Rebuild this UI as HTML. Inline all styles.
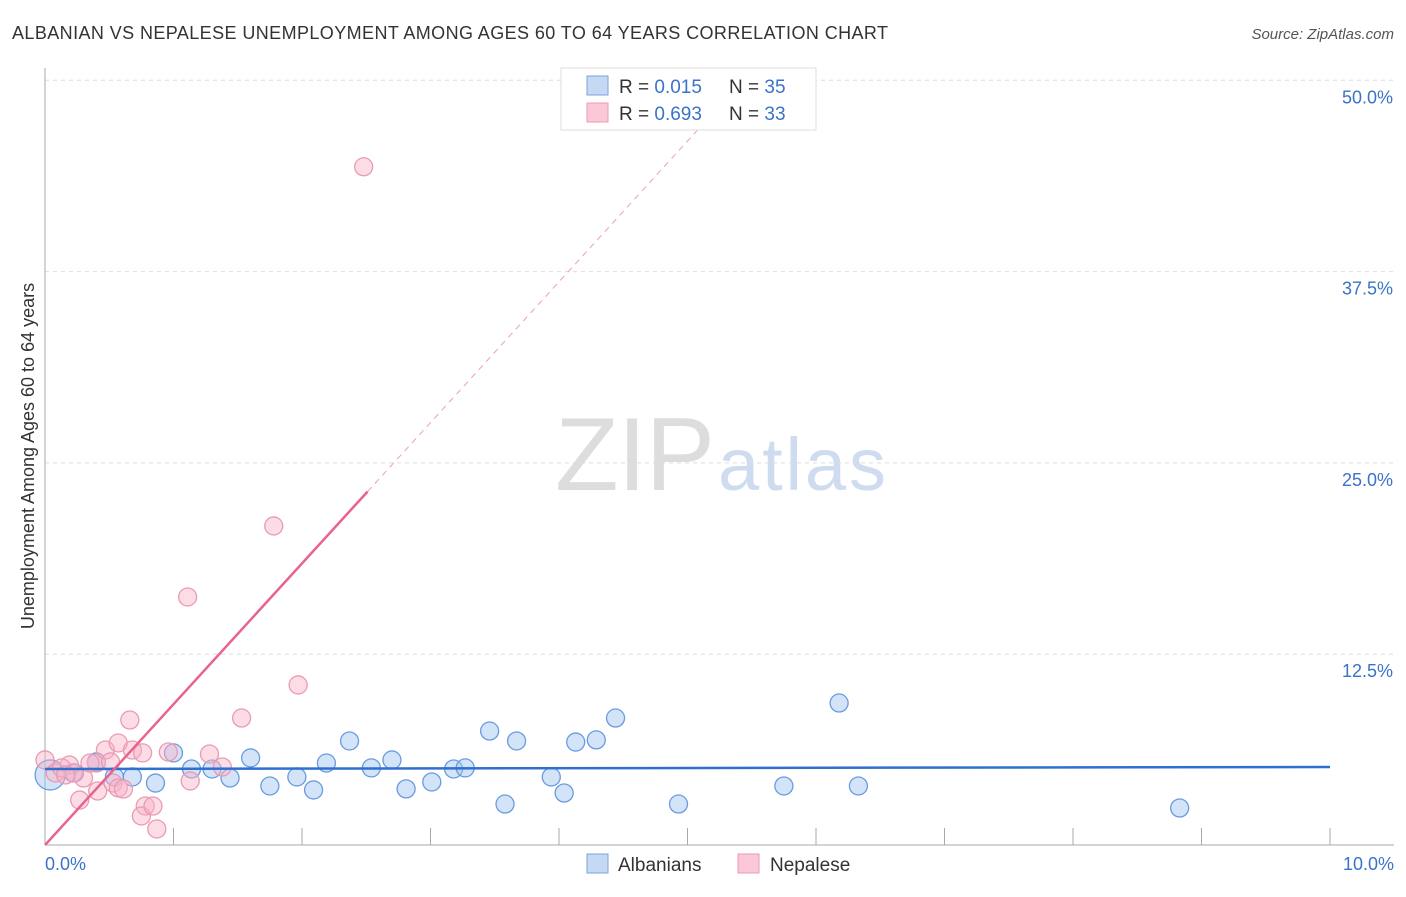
<!DOCTYPE html>
<html><head><meta charset="utf-8"><style>
body{margin:0;background:#fff;font-family:"Liberation Sans",sans-serif}
svg text{font-family:"Liberation Sans",sans-serif}
</style></head><body>
<svg id="chart" width="1406" height="892">
<text x="12" y="39" font-size="18" fill="#333" textLength="876">ALBANIAN VS NEPALESE UNEMPLOYMENT AMONG AGES 60 TO 64 YEARS CORRELATION CHART</text>
<text x="1394" y="39" font-size="15" fill="#555" font-style="italic" text-anchor="end">Source: ZipAtlas.com</text>
<g>
<text x="555" y="490" font-size="104" fill="#ddd" font-family="Liberation Serif" textLength="160">ZIP</text>
<text x="718" y="490" font-size="74" fill="#cfdcf0" textLength="168">atlas</text></g>
<g id="grid"></g><g id="axes"></g><g id="marks"></g>
<text transform="translate(34,456) rotate(-90)" font-size="18" fill="#333" text-anchor="middle">Unemployment Among Ages 60 to 64 years</text>
<text x="45" y="870" font-size="18" fill="#3b73c8">0.0%</text>
<text x="1394" y="870" font-size="18" fill="#3b73c8" text-anchor="end">10.0%</text>
<g>
<rect x="561" y="68" width="255" height="62" fill="#fff" stroke="#ddd"/>
<rect x="587" y="76" width="21" height="19" fill="#c5d9f5" stroke="#7aa3dd"/>
<rect x="587" y="103" width="21" height="19" fill="#fac8d7" stroke="#eb9ab3"/>
<text x="619" y="93" font-size="19" fill="#333">R = <tspan fill="#3b73c8">0.015</tspan><tspan x="729">N = </tspan><tspan fill="#3b73c8">35</tspan></text>
<text x="619" y="120" font-size="19" fill="#333">R = <tspan fill="#3b73c8">0.693</tspan><tspan x="729">N = </tspan><tspan fill="#3b73c8">33</tspan></text></g>
<g>
<rect x="587" y="854" width="21" height="19" fill="#c5d9f5" stroke="#7aa3dd"/>
<text x="618" y="871" font-size="19" fill="#333">Albanians</text>
<rect x="738" y="854" width="21" height="19" fill="#fac8d7" stroke="#eb9ab3"/>
<text x="770" y="871" font-size="19" fill="#333">Nepalese</text></g>
</svg>
<script>
const yTicks=[12.5,25,37.5,50];
const yTickLabels=["12.5%","25.0%","37.5%","50.0%"];
const albX=[0.04,0.22,0.40,0.54,0.68,0.86,1.00,1.14,1.30,1.44,1.60,1.75,1.96,2.09,2.19,2.37,2.54,2.70,2.81,3.01,3.18,3.27,3.46,3.58,3.67,3.94,4.04,4.13,4.29,4.44,4.93,5.75,6.18,6.33,8.83];
const albY=[4.61,4.74,5.46,4.48,4.48,4.08,6.05,5.00,5.00,4.41,5.72,3.89,4.48,3.63,5.39,6.83,5.07,5.59,3.70,4.15,5.00,5.07,7.48,2.71,6.83,4.48,3.43,6.76,6.90,8.33,2.71,3.89,9.31,3.89,2.45];
const nepX=[0.00,0.08,0.19,0.13,0.27,0.30,0.41,0.40,0.47,0.53,0.57,0.61,0.57,0.66,0.68,0.76,0.78,0.75,0.84,0.87,0.96,1.11,1.13,1.28,1.38,1.53,1.78,1.97,2.48,0.51,0.35,0.23,0.16];
const nepY=[5.59,4.74,5.26,5.07,2.97,4.41,3.56,5.39,6.24,4.08,3.76,3.69,6.70,8.20,6.24,6.05,2.58,1.93,2.58,1.08,6.11,16.24,4.22,5.98,5.13,8.33,20.88,10.49,44.35,5.46,5.39,4.74,4.61];
const albTrend=[5.0,5.13];
const nepTrend=[0.03,9.2];
const NS="http://www.w3.org/2000/svg";
const X=v=>45+v*128.5, Y=v=>845.5-v*15.304;
function mk(p,t,a){const e=document.createElementNS(NS,t);for(const k in a)e.setAttribute(k,a[k]);p.appendChild(e);return e;}
const grid=document.getElementById('grid'),axes=document.getElementById('axes'),marks=document.getElementById('marks');
yTicks.forEach((t,i)=>{
 const l=mk(grid,'line',{x1:45,x2:1394,y1:Y(t),y2:Y(t),stroke:'#ddd','stroke-dasharray':'4,4'});
 
 
 const tx=mk(grid,'text',{x:1393,y:Y(t)+23,'font-size':18,fill:'#3b73c8','text-anchor':'end'});
 tx.textContent=yTickLabels[i];
 
 
});
const ya=mk(axes,'line',{x1:45,x2:45,y1:68,y2:845,stroke:'#aaa'});


const xa=mk(axes,'line',{x1:45,x2:1394,y1:845,y2:845,stroke:'#aaa'});


for(let i=1;i<=10;i++){
 const t=mk(axes,'line',{x1:X(i),x2:X(i),y1:828,y2:845,stroke:'#aaa'});
 
 
}
albX.forEach((x,i)=>{
 const c=mk(marks,'circle',{cx:X(x),cy:Y(albY[i]),r:i==0?15:9,fill:'rgba(160,195,240,0.45)',stroke:'#6a9be0','stroke-width':1.3});
 
 
});
nepX.forEach((x,i)=>{
 const c=mk(marks,'circle',{cx:X(x),cy:Y(nepY[i]),r:9,fill:'rgba(248,180,200,0.45)',stroke:'#eb9ab3','stroke-width':1.3});
 
 
});
const bl=mk(marks,'line',{x1:X(0),x2:X(10),y1:Y(albTrend[0]),y2:Y(albTrend[1]),stroke:'#2f6fd0','stroke-width':2.5});


const pe=2.51;
const pl=mk(marks,'line',{x1:X(0),x2:X(pe),y1:Y(nepTrend[0]),y2:Y(nepTrend[0]+nepTrend[1]*pe),stroke:'#e8638e','stroke-width':2.5});


const xe=(50-nepTrend[0])/nepTrend[1];
const pd=mk(marks,'line',{x1:X(pe),x2:X(xe),y1:Y(nepTrend[0]+nepTrend[1]*pe),y2:Y(50),stroke:'#eba0b8','stroke-width':1,'stroke-dasharray':'6,5'});


</script>
</body></html>
